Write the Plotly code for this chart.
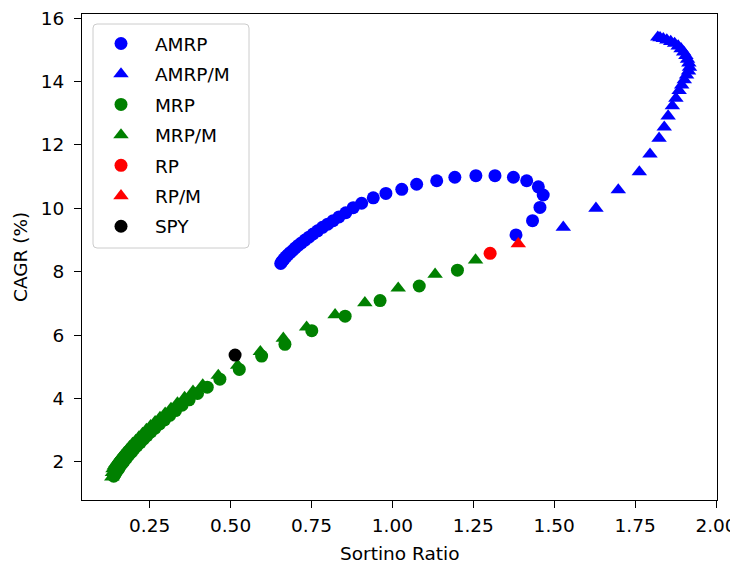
import plotly.graph_objects as go

# ---- data ----
amrp_x = [0.655, 0.658, 0.662, 0.666, 0.671, 0.677, 0.684, 0.692, 0.700, 0.709,
          0.719, 0.730, 0.742, 0.755, 0.769, 0.784, 0.800, 0.817, 0.835, 0.856,
          0.879, 0.905, 0.941, 0.980, 1.029, 1.075, 1.137, 1.193, 1.258, 1.317,
          1.374, 1.415, 1.451, 1.466, 1.456, 1.433, 1.382]
amrp_y = [8.26, 8.31, 8.36, 8.41, 8.47, 8.53, 8.60, 8.67, 8.75, 8.83,
          8.91, 9.00, 9.09, 9.19, 9.29, 9.40, 9.50, 9.61, 9.73, 9.86,
          10.02, 10.16, 10.33, 10.47, 10.60, 10.76, 10.87, 10.98, 11.03, 11.03,
          10.98, 10.87, 10.68, 10.42, 10.03, 9.61, 9.16]

amrpm_x = [1.528, 1.629, 1.698, 1.763, 1.796, 1.824, 1.840, 1.852, 1.865, 1.876,
           1.886, 1.894, 1.902, 1.909, 1.915, 1.918, 1.916, 1.912, 1.907, 1.900,
           1.892, 1.883, 1.872, 1.860, 1.848, 1.837, 1.827, 1.820]
amrpm_y = [9.40, 10.00, 10.58, 11.15, 11.71, 12.21, 12.56, 12.91, 13.23, 13.47,
           13.71, 13.89, 14.05, 14.20, 14.33, 14.45, 14.58, 14.70, 14.82, 14.93,
           15.03, 15.12, 15.20, 15.26, 15.31, 15.35, 15.38, 15.40]

mrp_x = [1.201, 1.083, 0.962, 0.854, 0.751, 0.668, 0.596, 0.527, 0.467,
         0.428, 0.398, 0.372, 0.350, 0.330, 0.312, 0.296, 0.281, 0.267, 0.254,
         0.242, 0.231, 0.221, 0.211, 0.202, 0.194, 0.186, 0.179, 0.172, 0.166,
         0.160, 0.155, 0.150, 0.146, 0.142, 0.139]
mrp_y = [8.05, 7.55, 7.09, 6.60, 6.14, 5.71, 5.34, 4.92, 4.61,
         4.36, 4.16, 3.96, 3.79, 3.62, 3.47, 3.33, 3.20, 3.07, 2.95,
         2.83, 2.72, 2.61, 2.51, 2.41, 2.31, 2.22, 2.13, 2.04, 1.96,
         1.88, 1.80, 1.73, 1.66, 1.60, 1.55]

mrpm_x = [1.257, 1.132, 1.018, 0.915, 0.823, 0.735, 0.663, 0.592, 0.522, 0.462,
          0.414, 0.384, 0.358, 0.336, 0.316, 0.298, 0.282, 0.267, 0.253, 0.240,
          0.228, 0.217, 0.207, 0.197, 0.188, 0.180, 0.172, 0.165, 0.158, 0.152,
          0.146, 0.141, 0.137, 0.135, 0.133]
mrpm_y = [8.37, 7.92, 7.48, 7.02, 6.64, 6.25, 5.90, 5.48, 5.05, 4.73,
          4.43, 4.23, 4.03, 3.86, 3.69, 3.54, 3.40, 3.27, 3.14, 3.02,
          2.90, 2.79, 2.68, 2.58, 2.48, 2.38, 2.29, 2.20, 2.11, 2.03,
          1.95, 1.87, 1.78, 1.66, 1.52]

rp_x, rp_y = [1.302], [8.58]
rpm_x, rpm_y = [1.389], [8.88]
spy_x, spy_y = [0.514], [5.37]

x_ticks = [0.25, 0.50, 0.75, 1.00, 1.25, 1.50, 1.75, 2.00]
y_ticks = [2, 4, 6, 8, 10, 12, 14, 16]

FONT = "DejaVu Sans"
FS = 18.5
CIRC = 13
TRI = 13.5

OFF = 8                      # page body margin offset
W, H = 738 - OFF, 564 - OFF  # figure size so it fits the window
# plot area in window pixels: x 82..717, y 14..500
ML, MT = 82 - OFF, 14 - OFF
MR, MB = 738 - 717, 564 - 500
PW, PH = W - ML - MR, H - MT - MB

series = [
    ("AMRP", amrp_x, amrp_y, "circle", "#0000ff", CIRC),
    ("AMRP/M", amrpm_x, amrpm_y, "triangle-up", "#0000ff", TRI),
    ("MRP", mrp_x, mrp_y, "circle", "#008000", CIRC),
    ("MRP/M", mrpm_x, mrpm_y, "triangle-up", "#008000", TRI),
    ("RP", rp_x, rp_y, "circle", "#ff0000", CIRC),
    ("RP/M", rpm_x, rpm_y, "triangle-up", "#ff0000", TRI),
    ("SPY", spy_x, spy_y, "circle", "#000000", CIRC),
]

fig = go.Figure()
for name, xs, ys, sym, col, sz in series:
    fig.add_trace(go.Scatter(
        x=xs, y=ys, mode="markers", name="\u00a0" + name, legendgroup=name,
        marker=dict(symbol=sym, color=col, size=sz, line=dict(width=0)),
    ))

axis_common = dict(
    showline=True, linecolor="black", linewidth=1, mirror=True,
    ticks="outside", ticklen=7, tickwidth=1, tickcolor="black",
    showgrid=False, zeroline=False, automargin=False,
    ticklabeloverflow="allow",
    tickfont=dict(family=FONT, size=FS, color="black"),
)

def px_x(p):  # window pixel -> paper coordinate
    return (p - OFF - ML) / PW

def px_y(p):
    return 1 - (p - OFF - MT) / PH

# legend frame (rounded rectangle, paper coords)
bx0, bx1, by0, by1 = px_x(93), px_x(249), px_y(248), px_y(24)
rx, ry = 4 / PW, 4 / PH
frame = (f"M {bx0+rx},{by1} L {bx1-rx},{by1} Q {bx1},{by1} {bx1},{by1-ry} "
         f"L {bx1},{by0+ry} Q {bx1},{by0} {bx1-rx},{by0} "
         f"L {bx0+rx},{by0} Q {bx0},{by0} {bx0},{by0+ry} "
         f"L {bx0},{by1-ry} Q {bx0},{by1} {bx0+rx},{by1} Z")

fig.update_layout(
    width=W, height=H,
    margin=dict(l=ML, r=MR, t=MT, b=MB),
    paper_bgcolor="white", plot_bgcolor="white",
    font=dict(family=FONT, size=FS, color="black"),
    xaxis=dict(range=[0.041, 2.003], tickvals=x_ticks, tickformat=".2f",
               ticklabelstandoff=2, **axis_common),
    yaxis=dict(range=[0.80, 16.13], tickvals=y_ticks,
               ticklabelstandoff=6, **axis_common),
    shapes=[dict(type="path", path=frame, xref="paper", yref="paper",
                 fillcolor="rgba(255,255,255,0.8)", line=dict(color="#cccccc", width=1),
                 layer="above")],
    annotations=[
        dict(text="Sortino Ratio", xref="paper", yref="paper", x=0.5, y=px_y(553),
             xanchor="center", yanchor="middle", showarrow=False,
             font=dict(family=FONT, size=FS, color="black")),
        dict(text="CAGR (%)", xref="paper", yref="paper", x=px_x(20), y=0.5,
             xanchor="center", yanchor="middle", showarrow=False, textangle=-90,
             font=dict(family=FONT, size=FS, color="black")),
    ],
    legend=dict(x=px_x(93), y=px_y(25), xanchor="left", yanchor="top",
                bgcolor="rgba(0,0,0,0)", borderwidth=0,
                font=dict(family=FONT, size=FS, color="black"),
                itemwidth=46, tracegroupgap=3.4, traceorder="grouped"),
    showlegend=True,
)

fig.write_html("out.html")
